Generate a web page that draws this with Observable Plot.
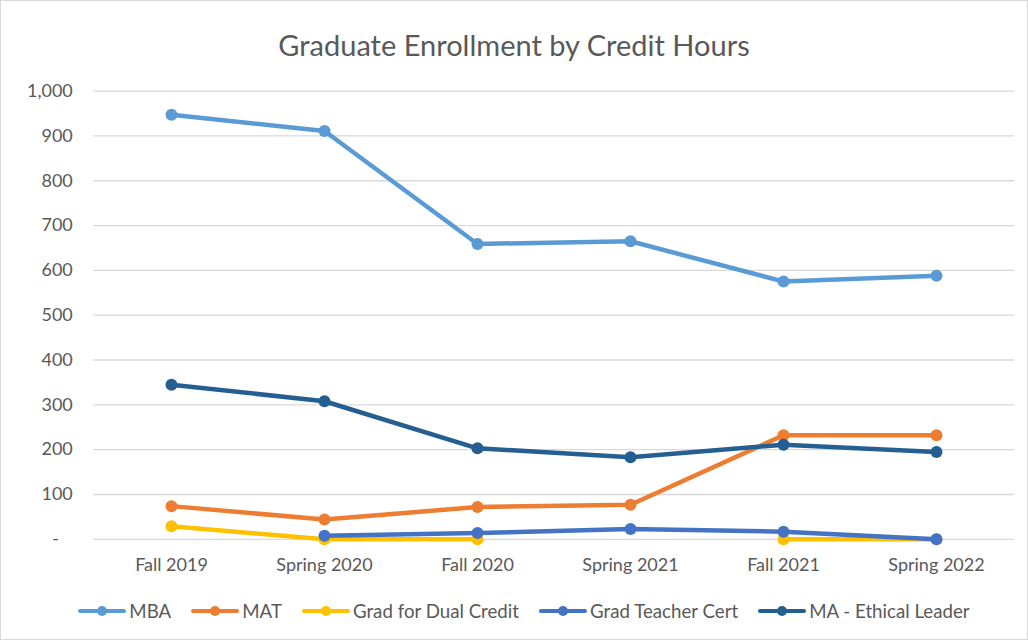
<!DOCTYPE html>
<html>
<head>
<meta charset="utf-8">
<script src="https://cdn.jsdelivr.net/npm/d3@7"></script>
<script src="https://cdn.jsdelivr.net/npm/@observablehq/plot@0.6"></script>
<style>
  html, body { margin: 0; padding: 0; background: #fff; }
  #wrap { position: relative; width: 1028px; height: 640px; overflow: hidden; font-family: Lato, "Open Sans", sans-serif; color: #595959; }
  #border { position: absolute; left: 0; top: 0; width: 1028px; height: 640px; box-sizing: border-box; border: 1px solid #d9d9d9; pointer-events: none; }
  #title { height: 50px; padding-top: 20px; line-height: 50px; text-align: center; font-size: 29px; color: #595959; }
  #plot { height: 515px; }
  #plot svg { display: block; }
  #legend { height: 55px; display: flex; justify-content: center; align-items: center; padding-left: 20px; box-sizing: border-box; padding-bottom: 3px; font-size: 18.7px; color: #595959; }
  .item { display: flex; align-items: center; margin: 0 10px; }
  .item svg { margin-right: 3px; }
</style>
</head>
<body>
<div id="wrap">
  <div id="title">Graduate Enrollment by Credit Hours</div>
  <div id="plot"></div>
  <div id="legend"></div>
  <div id="border"></div>
</div>
<script>
const categories = ["Fall 2019", "Spring 2020", "Fall 2020", "Spring 2021", "Fall 2021", "Spring 2022"];
const seriesNames = ["MBA", "MAT", "Grad for Dual Credit", "Grad Teacher Cert", "MA - Ethical Leader"];
const mba = [947, 911, 659, 665, 575, 588];
const mat = [74, 44, 72, 77, 232, 232];
const dualCredit = [29, 0, 0, null, 0, 0];
const teacherCert = [null, 8, 14, 23, 17, 0];
const maEthical = [345, 308, 203, 183, 211, 195];
const colors = ["#5B9BD5", "#ED7D31", "#FFC000", "#4472C4", "#255E91"];
const yTicks = [0, 100, 200, 300, 400, 500, 600, 700, 800, 900, 1000];

const seriesValues = [mba, mat, dualCredit, teacherCert, maEthical];
const data = [];
seriesNames.forEach((s, i) => categories.forEach((c, j) => {
  data.push({ series: s, category: c, value: seriesValues[i][j] });
}));

const seriesMarks = [];
seriesNames.forEach(s => {
  const rows = data.filter(d => d.series === s);
  seriesMarks.push(Plot.line(rows, { x: "category", y: "value", stroke: "series", strokeWidth: 4.5, strokeLinejoin: "round", strokeLinecap: "round" }));
  seriesMarks.push(Plot.dot(rows.filter(d => d.value != null), { x: "category", y: "value", fill: "series", r: 6, stroke: "none" }));
});

const chart = Plot.plot({
  width: 1028,
  height: 515,
  marginTop: 20.6,
  marginBottom: 46.2,
  marginLeft: 93.3,
  marginRight: 14,
  style: { fontFamily: "Lato, 'Open Sans', sans-serif", fontSize: "16px", color: "#595959", background: "transparent" },
  x: { type: "point", domain: categories, padding: 0.5, label: null },
  y: { domain: [0, 1000], label: null },
  color: { domain: seriesNames, range: colors },
  marks: [
    Plot.gridY(yTicks, { stroke: "#d9d9d9", strokeOpacity: 1, strokeWidth: 1.3 }),
    Plot.axisY(yTicks, { tickSize: 0, tickPadding: 21, fontSize: 18, fill: "#595959",
      tickFormat: d => d === 0 ? "-\u00a0\u00a0\u00a0" : d3.format(",")(d) }),
    Plot.axisX({ tickSize: 0, tickPadding: 19, fontSize: 18, fill: "#595959" }),
    ...seriesMarks
  ]
});
document.getElementById("plot").appendChild(chart);

const legend = document.getElementById("legend");
seriesNames.forEach((s, i) => {
  const item = document.createElement("div");
  item.className = "item";
  item.innerHTML = `<svg width="48" height="12"><line x1="2" y1="6" x2="46" y2="6" stroke="${colors[i]}" stroke-width="4" stroke-linecap="round"/><circle cx="24" cy="6" r="5" fill="${colors[i]}"/></svg><span>${s}</span>`;
  legend.appendChild(item);
});
</script>
</body>
</html>
